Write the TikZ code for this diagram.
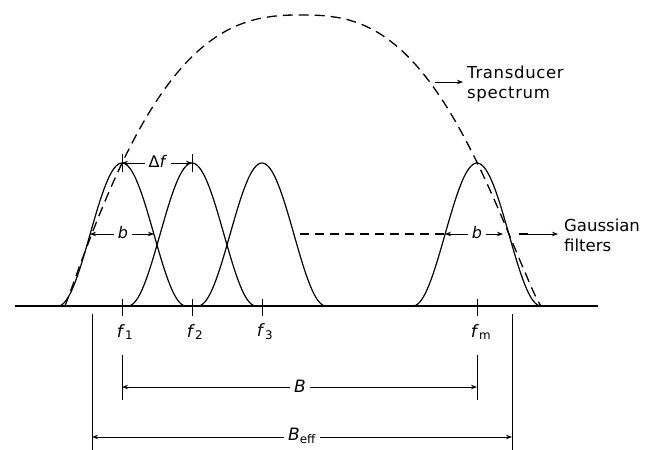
\documentclass[tikz,border=0pt]{standalone}
\usepackage{fontspec}
\setmainfont{DejaVu Sans}
\usetikzlibrary{arrows.meta}
\begin{document}
\begin{tikzpicture}[x=1pt,y=-1pt,
  filt/.style={line width=1.2pt},
  spec/.style={line width=1.3pt, dash pattern=on 10pt off 6pt},
  hdash/.style={line width=1.4pt, dash pattern=on 9pt off 6pt},
  dimarr/.style={line width=0.9pt, -{Stealth[length=6pt,width=4.5pt]}},
  thinln/.style={line width=0.9pt},
  lbl/.style={font=\fontsize{16}{18}\selectfont, inner sep=4pt},
  flbl/.style={font=\fontsize{17}{19}\selectfont, inner sep=2pt},
  note/.style={font=\fontsize{16.5}{20}\selectfont, align=left, inner sep=0pt}]
\useasboundingbox (0,0) rectangle (659,450);
\fill[white] (0,0) rectangle (659,450);

% axis
\coordinate (ax0) at (15,306);
\coordinate (ax1) at (598,306);
\draw[line width=1.6pt] (ax0) -- (ax1);

% Gaussian filters
\foreach \c in {122,192,262,477}{
  \draw[filt] plot[domain=-64:64, samples=81] ({\c+\x},{306-71.5*(1+cos(\x*180/64))});
}

% ticks and labels
\foreach \c/\n in {122/1,192/2,262/3,477/m}{
  \coordinate (p\n) at (\c,163);
  \coordinate (t\n a) at (\c,299);
  \coordinate (t\n b) at (\c,316);
  \draw[thinln] (t\n a) -- (t\n b);
}
\node[flbl] (lf1) at (125,332) {\textit{f}\textsubscript{1}};
\node[flbl] (lf2) at (195,332) {\textit{f}\textsubscript{2}};
\node[flbl] (lf3) at (265,332) {\textit{f}\textsubscript{3}};
\node[flbl] (lfm) at (481,332) {\textit{f}\textsubscript{m}};

% transducer spectrum
\coordinate (sL) at (65,306);
\coordinate (sR) at (541,306);
\draw[spec] (sL) -- plot[domain=-0.999:-0.001, samples=70] ({302+237*\x},{306-291*pow(1-pow(abs(\x),2.6),1.06)})
  -- plot[domain=0.001:0.999, samples=70] ({302+239*\x},{306-291*pow(1-pow(\x,2.6),1.2)}) -- (sR);

% delta f
\coordinate (pk1a) at (122,154); \coordinate (pk1b) at (122,172);
\coordinate (pk2a) at (192,154); \coordinate (pk2b) at (192,172);
\draw[thinln] (pk1a) -- (pk1b);
\draw[thinln] (pk2a) -- (pk2b);
\node[lbl] (df) at (158,161) {Δ\textit{f}};
\draw[dimarr] (df.west |- p1) -- (p1);
\draw[dimarr] (df.east |- p2) -- (p2);

% b at f1
\coordinate (b1l) at (90,234);
\coordinate (b1r) at (154,234);
\node[lbl] (b1) at (123,233) {\textit{b}};
\draw[dimarr] (b1.west |- b1l) -- (b1l);
\draw[dimarr] (b1.east |- b1r) -- (b1r);

% b at fm and dashed level
\coordinate (hd0) at (300,234);
\coordinate (bml) at (445,234);
\coordinate (bmr) at (503,234);
\draw[hdash] (hd0) -- (bml);
\node[lbl] (bm) at (477,233) {\textit{b}};
\draw[dimarr] (bm.west |- bml) -- (bml);
\draw[dimarr] (bm.east |- bmr) -- (bmr);
\coordinate (g0) at (519,234);
\coordinate (g1) at (528,234);
\draw[line width=1.2pt] (g0) -- (g1);

% notes
\node[note, anchor=west] (gf) at (564,235) {Gaussian\\filters};
\draw[dimarr] (g1) -- ([xshift=-6pt]gf.west |- g1);
\node[note, anchor=west] (ts) at (467,84) {\addfontfeature{LetterSpace=4}Transducer\\\addfontfeature{LetterSpace=4}spectrum};
\coordinate (ta) at (435,82);
\draw[dimarr] (ta) -- ([xshift=-4pt]ts.west |- ta);

% B
\coordinate (Bl0) at (122,355); \coordinate (Bl1) at (122,400);
\coordinate (Br0) at (477,355); \coordinate (Br1) at (477,400);
\draw[thinln] (Bl0) -- (Bl1);
\draw[thinln] (Br0) -- (Br1);
\coordinate (Bl) at (122,387); \coordinate (Br) at (477,387);
\node[flbl, inner sep=4pt] (B) at (300,386) {\textit{B}};
\draw[dimarr] (B.west |- Bl) -- (Bl);
\draw[dimarr] (B.east |- Br) -- (Br);

% B_eff
\coordinate (El0) at (92,314); \coordinate (El1) at (92,450);
\coordinate (Er0) at (512,314); \coordinate (Er1) at (512,450);
\draw[thinln] (El0) -- (El1);
\draw[thinln] (Er0) -- (Er1);
\coordinate (El) at (92,437); \coordinate (Er) at (512,437);
\node[flbl, inner sep=4pt] (Beff) at (302,436) {\textit{B}\textsubscript{eff}};
\draw[dimarr] (Beff.west |- El) -- (El);
\draw[dimarr] (Beff.east |- Er) -- (Er);
\end{tikzpicture}
\end{document}
